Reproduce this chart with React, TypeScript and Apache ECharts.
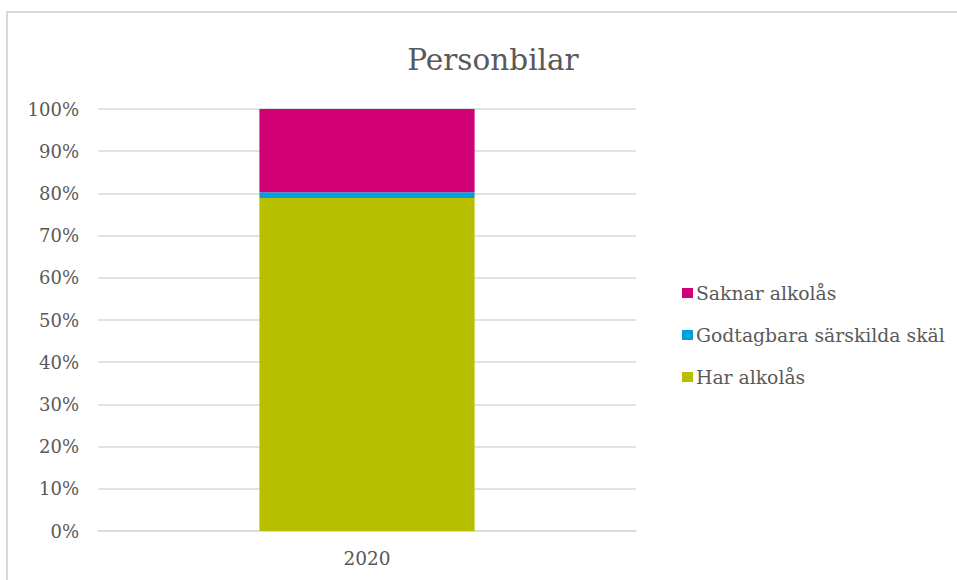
import React, { useEffect, useRef } from "react";
import * as echarts from "echarts";

const categories = ["2020"];
const seriesNames = ["Har alkolås", "Godtagbara särskilda skäl", "Saknar alkolås"];
const harAlkolas = [0.789];
const godtagbara = [0.014];
const saknarAlkolas = [0.197];
const seriesColors = ["#B7BF00", "#00A0DE", "#D10074"];
const legendOrder = ["Saknar alkolås", "Godtagbara särskilda skäl", "Har alkolås"];
const titleText = "Personbilar";

const FONT = "DejaVu Serif";
const TEXT = "#595959";
const GRID = "#d9d9d9";

export default function App() {
  const ref = useRef<HTMLDivElement>(null);
  useEffect(() => {
    if (!ref.current) return;
    const chart = echarts.init(ref.current, undefined, { renderer: "svg" });
    const values = [harAlkolas, godtagbara, saknarAlkolas];
    chart.setOption({
      animation: false,
      backgroundColor: "#ffffff",
      textStyle: { fontFamily: FONT },
      title: {
        text: titleText,
        left: 488,
        textAlign: "center",
        top: 40,
        textStyle: { fontFamily: FONT, fontSize: 29.5, fontWeight: "normal", color: TEXT },
      },
      graphic: [
        {
          type: "polyline",
          shape: { points: [[7, 590], [7, 12], [970, 12]] },
          style: { stroke: GRID, lineWidth: 2, fill: "none" },
        },
      ],
      legend: {
        orient: "vertical",
        left: 677,
        top: 278,
        itemWidth: 11,
        itemHeight: 10,
        itemGap: 22,
        icon: "rect",
        data: legendOrder,
        textStyle: { fontFamily: FONT, fontSize: 18.8, color: TEXT, lineHeight: 20, padding: [0, 0, 0, -2] },
      },
      grid: { left: 98, top: 109, width: 538, height: 422, containLabel: false },
      xAxis: {
        type: "category",
        data: categories,
        axisLine: { show: true, lineStyle: { color: GRID, width: 1.5 } },
        axisTick: { show: false },
        axisLabel: { fontFamily: FONT, fontSize: 18.5, color: TEXT, margin: 18 },
      },
      yAxis: {
        type: "value",
        min: 0,
        max: 1,
        interval: 0.1,
        axisLine: { show: false },
        axisTick: { show: false },
        splitLine: { lineStyle: { color: GRID, width: 1.5 } },
        axisLabel: {
          fontFamily: FONT,
          fontSize: 18,
          color: TEXT,
          margin: 19,
          formatter: (v: number) => `${Math.round(v * 100)}%`,
        },
      },
      series: seriesNames.map((name, i) => ({
        name,
        type: "bar",
        stack: "total",
        barWidth: "40%",
        data: values[i],
        itemStyle: { color: seriesColors[i] },
      })),
    });
    return () => chart.dispose();
  }, []);
  return (
    <div
      ref={ref}
      style={{ position: "fixed", left: 0, top: 0, width: 957, height: 580, background: "#fff" }}
    />
  );
}
